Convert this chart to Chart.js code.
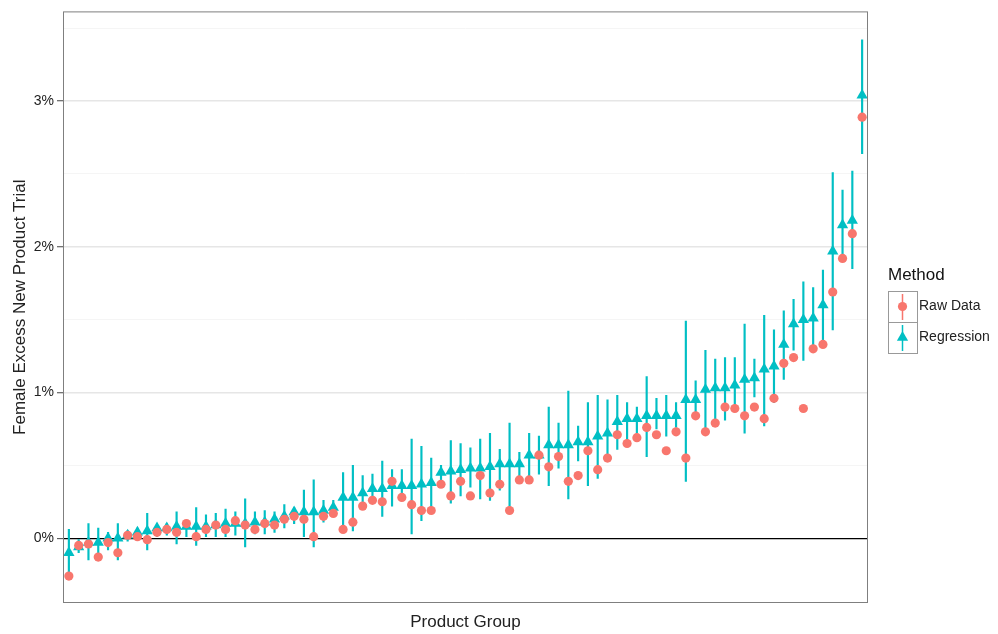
<!DOCTYPE html>
<html>
<head>
<meta charset="utf-8">
<script src="https://cdn.jsdelivr.net/npm/chart.js@4.4.1/dist/chart.umd.min.js"></script>
<style>
  html, body { margin: 0; padding: 0; background: #fff; }
  canvas { display: block; }
</style>
</head>
<body>
<canvas id="grafico" width="998" height="634"></canvas>
<script>
// valores em %, produtos ordenados pela estimativa da regressão
const rawData = [
  -0.26, -0.05, -0.04, -0.13, -0.03, -0.10, 0.02, 0.01, -0.01, 0.04,
   0.06,  0.04,  0.10,  0.01,  0.06,  0.09, 0.06, 0.12,  0.09, 0.06,
   0.10,  0.09,  0.13,  0.15,  0.13,  0.01, 0.15, 0.17,  0.06, 0.11,
   0.22,  0.26,  0.25,  0.39,  0.28,  0.23, 0.19, 0.19,  0.37, 0.29,
   0.39,  0.29,  0.43,  0.31,  0.37,  0.19, 0.40, 0.40,  0.57, 0.49,
   0.56,  0.39,  0.43,  0.60,  0.47,  0.55, 0.71, 0.65,  0.69, 0.76,
   0.71,  0.60,  0.73,  0.55,  0.84,  0.73, 0.79, 0.90,  0.89, 0.84,
   0.90,  0.82,  0.96,  1.20,  1.24,  0.89, 1.30, 1.33,  1.69, 1.92,
   2.09,  2.89
];
const regression = [
  -0.10, -0.06, -0.03, -0.03, 0.00, 0.00, 0.02, 0.04, 0.05, 0.07,
   0.07,  0.08,  0.08,  0.08, 0.08, 0.09, 0.10, 0.10, 0.10, 0.11,
   0.11,  0.13,  0.15,  0.18, 0.18, 0.18, 0.19, 0.21, 0.28, 0.28,
   0.31,  0.34,  0.34,  0.36, 0.36, 0.36, 0.37, 0.38, 0.45, 0.46,
   0.47,  0.48,  0.48,  0.49, 0.51, 0.51, 0.51, 0.57, 0.57, 0.64,
   0.64,  0.64,  0.66,  0.66, 0.70, 0.72, 0.80, 0.82, 0.82, 0.84,
   0.84,  0.84,  0.84,  0.95, 0.95, 1.02, 1.03, 1.03, 1.05, 1.09,
   1.10,  1.16,  1.18,  1.33, 1.47, 1.50, 1.51, 1.60, 1.97, 2.15,
   2.18,  3.04
];
const regLow = [
  -0.25, -0.10, -0.15, -0.10, -0.08, -0.15, -0.02, -0.01, -0.08, 0.01,
   0.02, -0.04,  0.01, -0.05,  0.01,  0.01,  0.01,  0.02, -0.06, 0.03,
   0.03,  0.04,  0.07,  0.10,  0.01, -0.06,  0.11,  0.15,  0.08, 0.05,
   0.21,  0.25,  0.15,  0.22,  0.26,  0.03,  0.12,  0.21,  0.40, 0.24,
   0.29,  0.35,  0.27,  0.26,  0.33,  0.19,  0.42,  0.42,  0.44, 0.36,
   0.48,  0.27,  0.53,  0.36,  0.41,  0.58,  0.61,  0.67,  0.72, 0.56,
   0.75,  0.70,  0.76,  0.39,  0.85,  0.75,  0.81,  0.81,  0.87, 0.72,
   0.97,  0.77,  0.93,  1.09,  1.29,  1.22,  1.28,  1.35,  1.43, 1.95,
   1.85,  2.64
];
const regHigh = [
  0.06, -0.01, 0.10, 0.07, 0.04, 0.10, 0.05, 0.07, 0.17, 0.09,
  0.10,  0.18, 0.12, 0.21, 0.16, 0.17, 0.20, 0.18, 0.27, 0.18,
  0.19,  0.18, 0.23, 0.21, 0.33, 0.40, 0.26, 0.26, 0.45, 0.50,
  0.43,  0.44, 0.53, 0.47, 0.47, 0.68, 0.63, 0.55, 0.50, 0.67,
  0.65,  0.62, 0.68, 0.72, 0.61, 0.79, 0.59, 0.72, 0.70, 0.90,
  0.79,  1.01, 0.77, 0.93, 0.98, 0.95, 0.98, 0.93, 0.90, 1.11,
  0.96,  0.98, 0.93, 1.49, 1.08, 1.29, 1.23, 1.24, 1.24, 1.47,
  1.23,  1.53, 1.43, 1.56, 1.64, 1.76, 1.72, 1.84, 2.51, 2.39,
  2.52,  3.42
];
const methods = ['Raw Data', 'Regression'];

const RED  = '#F8766D';
const CYAN = '#00BFC4';

Chart.defaults.font.family = '"Liberation Sans", Arial, sans-serif';

// ------------------------------------------------
// Moldura do painel + legenda à direita
// ------------------------------------------------
const molduraELegenda = {
    id: 'molduraELegenda',
    afterDraw(chart) {
        const { ctx, chartArea: a } = chart;
        ctx.save();
        ctx.strokeStyle = '#7F7F7F';
        ctx.lineWidth = 1;
        ctx.strokeRect(a.left + 0.5, a.top + 0.5, a.right - a.left - 1, a.bottom - a.top - 1);

        const lx = 888;
        ctx.fillStyle = '#111';
        ctx.textBaseline = 'middle';
        ctx.font = '17px "Liberation Sans", Arial, sans-serif';
        ctx.fillText('Method', lx, 275);

        methods.forEach((nome, k) => {
            const top = 291 + k * 31, h = 31, w = 29;
            const cx = lx + w / 2, cy = top + h / 2;
            const cor = k === 0 ? RED : CYAN;
            ctx.strokeStyle = '#999';
            ctx.lineWidth = 1;
            ctx.strokeRect(lx + 0.5, top + 0.5, w, h);
            ctx.fillStyle = cor;
            ctx.fillRect(cx - 0.75, top + 3, 1.5, h - 5);
            ctx.beginPath();
            if (k === 0) {
                ctx.arc(cx, cy, 4.6, 0, Math.PI * 2);
            } else {
                const r = 6.5;
                ctx.moveTo(cx, cy - r);
                ctx.lineTo(cx + r * 0.866, cy + r / 2);
                ctx.lineTo(cx - r * 0.866, cy + r / 2);
                ctx.closePath();
            }
            ctx.fill();
            ctx.fillStyle = '#222';
            ctx.font = '14px "Liberation Sans", Arial, sans-serif';
            ctx.fillText(nome, lx + 31, cy);
        });
        ctx.restore();
    }
};

const isInteiro = v => Math.abs(v - Math.round(v)) < 1e-9;

new Chart(document.getElementById('grafico').getContext('2d'), {
    type: 'scatter',
    data: {
        datasets: [
            {
                label: methods[0],
                data: rawData.map((v, i) => ({ x: i, y: v })),
                pointStyle: 'circle',
                pointRadius: 4.6,
                backgroundColor: RED,
                borderWidth: 0,
                order: 0
            },
            {
                label: methods[1],
                data: regression.map((v, i) => ({ x: i, y: v })),
                pointStyle: 'triangle',
                pointRadius: 6.5,
                backgroundColor: CYAN,
                borderWidth: 0,
                order: 1
            },
            {
                type: 'bar',
                label: 'Intervalo',
                data: regLow.map((v, i) => ({ x: i, y: [v, regHigh[i]] })),
                backgroundColor: CYAN,
                borderWidth: 0,
                barThickness: 1.5,
                grouped: false,
                order: 2
            }
        ]
    },
    options: {
        responsive: false,
        animation: false,
        layout: { padding: { top: 10, right: 130, left: 0, bottom: 0 } },
        plugins: {
            legend: { display: false },
            tooltip: { enabled: false }
        },
        scales: {
            x: {
                type: 'linear',
                offset: false,
                min: -0.6,
                max: rawData.length - 0.4,
                grid: { display: false, drawTicks: false, offset: false },
                border: { display: false },
                ticks: { display: false },
                title: {
                    display: true,
                    text: 'Product Group',
                    color: '#222',
                    font: { size: 17 },
                    padding: { top: 0, bottom: 1 }
                },
                afterFit: s => { s.height = 31; }
            },
            y: {
                min: -0.445,
                max: 3.616,
                border: { display: false },
                grid: {
                    color: c => c.tick.value === 0 ? '#000' : (isInteiro(c.tick.value) ? '#E6E6E6' : '#F5F5F5'),
                    lineWidth: c => c.tick.value === 0 ? 1.3 : (isInteiro(c.tick.value) ? 1.5 : 1),
                    tickColor: c => isInteiro(c.tick.value) ? '#444' : 'rgba(0,0,0,0)',
                    tickWidth: 1,
                    tickLength: 6
                },
                ticks: {
                    stepSize: 0.5,
                    includeBounds: false,
                    autoSkip: false,
                    padding: 3,
                    color: '#222',
                    font: { size: 14 },
                    callback: v => isInteiro(v) ? `${Math.round(v)}%` : ''
                },
                title: {
                    display: true,
                    text: 'Female Excess New Product Trial',
                    color: '#222',
                    font: { size: 17 },
                    padding: { top: 10, bottom: 0 }
                },
                afterFit: s => { s.width = 63; }
            }
        }
    },
    plugins: [molduraELegenda]
});
</script>
</body>
</html>
